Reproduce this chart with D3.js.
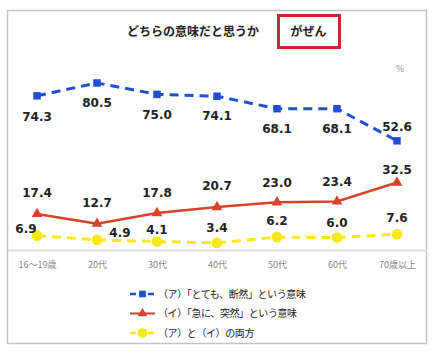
<!DOCTYPE html>
<html><head><meta charset="utf-8">
<script src="https://cdn.jsdelivr.net/npm/d3@7"></script>
<style>
html,body{margin:0;padding:0;background:#fff;}
svg{display:block;}
</style></head>
<body>
<svg id="chart" width="448" height="357"></svg>
<script>
const categories = ["16～19歳","20代","30代","40代","50代","60代","70歳以上"];
const seriesA = [74.3, 80.5, 75.0, 74.1, 68.1, 68.1, 52.6];
const seriesB = [17.4, 12.7, 17.8, 20.7, 23.0, 23.4, 32.5];
const seriesC = [6.9, 4.9, 4.1, 3.4, 6.2, 6.0, 7.6];
const seriesNames = ["（ア）「とても、断然」という意味","（イ）「急に、突然」という意味","（ア）と（イ）の両方"];
const titleText = "どちらの意味だと思うか";
const wordText = "がぜん";
const unitText = "%";

// label placement offsets (dx, dy of label centre relative to point)
const offA = [[0,21],[0,20],[0,20],[0,19],[0,20],[0,20],[0,-14]];
const offB = [[0,-21],[0,-21],[0,-21],[0,-22],[0,-20],[0,-20],[0,-13]];
const offC = [[-11,-7],[23,-7],[0,-12],[0,-15],[0,-17],[0,-15],[0,-17]];

const svg = d3.select("#chart");
const jp = "'Noto Sans CJK JP','Noto Sans',sans-serif";
const num = "'DejaVu Sans',Verdana,sans-serif";

// outer frame
svg.append("rect").attr("x",7.5).attr("y",10.5).attr("width",419).attr("height",333)
  .attr("fill","#fff").attr("stroke","#c4c4c4").attr("stroke-width",1.5);

// title
svg.append("text").attr("x",193).attr("y",35.5).attr("text-anchor","middle")
  .attr("font-family",jp).attr("font-weight","bold").attr("font-size",12).attr("fill","#222")
  .text(titleText);
svg.append("rect").attr("x",278.5).attr("y",15.5).attr("width",61).attr("height",32)
  .attr("fill","none").attr("stroke","#c22a2e").attr("stroke-width",3);
svg.append("text").attr("x",308.5).attr("y",35.5).attr("text-anchor","middle")
  .attr("font-family",jp).attr("font-weight","bold").attr("font-size",12).attr("fill","#222")
  .text(wordText);
svg.append("text").attr("x",400).attr("y",72).attr("text-anchor","middle")
  .attr("font-family",num).attr("font-size",9).attr("fill","#a0a0a0").text(unitText);

const x = d3.scalePoint().domain(categories).range([7,427]).padding(0.5);
const y = d3.scaleLinear().domain([0,100]).range([250,42.5]);

// x axis
const ax = svg.append("g").attr("transform","translate(0,250)")
  .call(d3.axisBottom(x).tickSize(0).tickSizeOuter(0).tickPadding(12));
ax.select(".domain").attr("stroke","#dcdcdc").attr("stroke-width",2);
ax.selectAll("text").attr("font-family",jp).attr("font-size",9).attr("fill","#888");

const series = [
  {vals:seriesA, color:"#1f4fd3", dash:"9,6", width:3, marker:"square", off:offA},
  {vals:seriesB, color:"#d8412a", dash:null, width:2.5, marker:"triangle", off:offB},
  {vals:seriesC, color:"#f7e818", dash:"9,6", width:3, marker:"circle", off:offC}
];
const line = d3.line().x((d,i)=>x(categories[i])).y(d=>y(d));
const symSize = {square:56, triangle:50, circle:90};
const symType = {square:d3.symbolSquare, triangle:d3.symbolTriangle, circle:d3.symbolCircle};

series.slice().reverse().forEach(s=>{
  const g = svg.append("g");
  g.append("path").datum(s.vals).attr("d",line).attr("fill","none")
    .attr("stroke",s.color).attr("stroke-width",s.width)
    .attr("stroke-dasharray",s.dash);
  g.selectAll("path.m").data(s.vals).enter().append("path").attr("class","m")
    .attr("transform",(d,i)=>`translate(${x(categories[i])},${y(d)})`)
    .attr("d",d3.symbol().type(symType[s.marker]).size(symSize[s.marker]))
    .attr("fill",s.color);
});
series.forEach(s=>{
  svg.append("g").selectAll("text").data(s.vals).enter().append("text")
    .attr("x",(d,i)=>x(categories[i])+s.off[i][0])
    .attr("y",(d,i)=>y(d)+s.off[i][1]+4.5)
    .attr("text-anchor","middle").attr("font-family",num).attr("font-weight","bold")
    .attr("font-size",12).attr("fill","#222").text(d=>d.toFixed(1));
});

// legend
const lg = svg.append("g");
series.forEach((s,i)=>{
  const yy = 294 + i*19.5;
  lg.append("line").attr("x1",130).attr("x2",155).attr("y1",yy).attr("y2",yy)
    .attr("stroke",s.color).attr("stroke-width",s.width-0.5).attr("stroke-dasharray",s.dash?"6,3":null);
  lg.append("path").attr("transform",`translate(142.5,${yy})`)
    .attr("d",d3.symbol().type(symType[s.marker]).size(symSize[s.marker]*0.8)).attr("fill",s.color);
  lg.append("text").attr("x",158).attr("y",yy+3.5).attr("font-family",jp)
    .attr("font-size",10).attr("letter-spacing",-0.4).attr("fill","#222").text(seriesNames[i]);
});
</script>
</body></html>
